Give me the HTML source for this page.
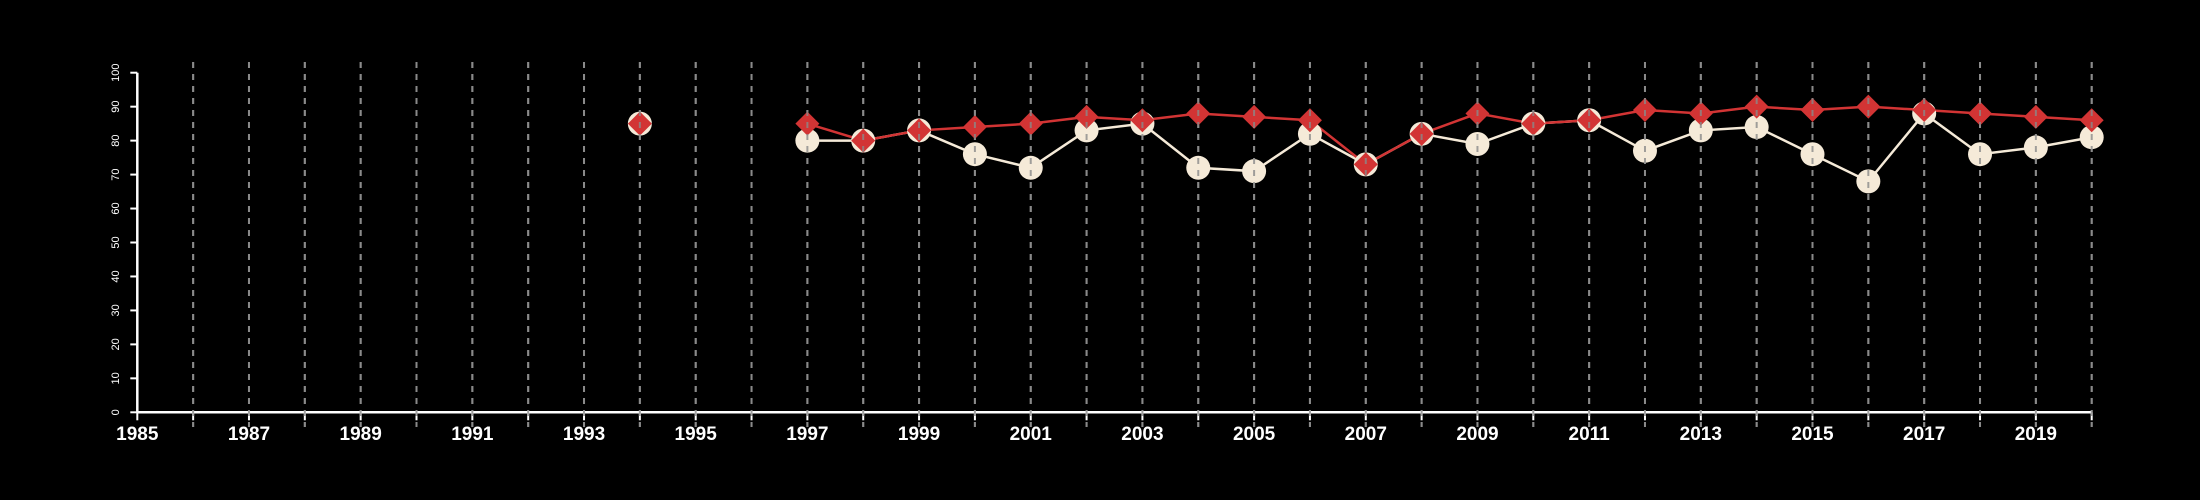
<!DOCTYPE html>
<html><head><meta charset="utf-8"><style>
html,body{margin:0;padding:0;background:#000;}
svg{display:block;font-family:"Liberation Sans",sans-serif;}
</style></head><body>
<svg id="chart" width="2200" height="500" viewBox="0 0 2200 500" xmlns="http://www.w3.org/2000/svg">
<rect width="2200" height="500" fill="#000"/>
<g id="grid"></g>
<g id="axes"></g>
<g id="series"></g>
<g id="grid2"></g>
</svg>
<script>
const years = [1994,1995,1996,1997,1998,1999,2000,2001,2002,2003,2004,2005,2006,2007,2008,2009,2010,2011,2012,2013,2014,2015,2016,2017,2018,2019,2020];
const whiteSeries = [85,null,null,80,80,83,76,72,83,85,72,71,82,73,82,79,85,86,77,83,84,76,68,88,76,78,81];
const redSeries = [85,null,null,85,80,83,84,85,87,86,88,87,86,73,82,88,85,86,89,88,90,89,90,89,88,87,86];
const yTicks = [0,10,20,30,40,50,60,70,80,90,100];
const xLabels = [1985,1987,1989,1991,1993,1995,1997,1999,2001,2003,2005,2007,2009,2011,2013,2015,2017,2019];
const xMin = 1985, xMax = 2020;

const NS = "http://www.w3.org/2000/svg";
const L = 137.3, R = 2091.7, Y0 = 412.3, Y100 = 72.7;
const xs = v => L + (v - xMin) * (R - L) / (xMax - xMin);
const ys = v => Y0 - v * (Y0 - Y100) / 100;
function mk(tag, attrs, parent){const e=document.createElementNS(NS,tag);for(const k in attrs)e.setAttribute(k,attrs[k]);parent.appendChild(e);return e;}
const grid=document.getElementById('grid'), grid2=document.getElementById('grid2'), axes=document.getElementById('axes'), series=document.getElementById('series');

for(let yr=xMin+1; yr<=xMax; yr++){
  for(const g of [grid, grid2]){
    const ln = mk('line',{x1:xs(yr),x2:xs(yr),y1:62,y2:427,stroke:'#8a8a8a','stroke-width':2,'stroke-dasharray':'6,6',opacity:g===grid2?0.8:1},g);
    
    
  }
}
// axes
const xa = mk('line',{x1:L,x2:R,y1:Y0,y2:Y0,stroke:'#fff','stroke-width':2.5},axes);


const ya = mk('line',{x1:L,x2:L,y1:Y0,y2:Y100,stroke:'#fff','stroke-width':2.5},axes);


for(let yr=xMin; yr<=xMax; yr++){
  const t = mk('line',{x1:xs(yr),x2:xs(yr),y1:Y0,y2:Y0+8,stroke:'#fff','stroke-width':2},axes);
  
  
}
xLabels.forEach(v=>{
  const t = mk('text',{x:xs(v),y:440,'text-anchor':'middle',fill:'#fff','font-size':19,'font-weight':'bold'},axes);
  t.textContent=v;
  
  
});
yTicks.forEach(v=>{
  const t = mk('line',{x1:L-7,x2:L,y1:ys(v),y2:ys(v),stroke:'#fff','stroke-width':2},axes);
  
  
  const y=ys(v);
  const lb = mk('text',{x:119,y:y,'text-anchor':'middle',fill:'#fff','font-size':11,transform:`rotate(-90 119 ${y})`},axes);
  lb.textContent=v;
  
  
});
function segs(vals){const out=[];let cur=[];vals.forEach((v,i)=>{if(v==null){if(cur.length)out.push(cur);cur=[];}else cur.push([xs(years[i]),ys(v)]);});if(cur.length)out.push(cur);return out;}
function drawLine(vals,color,name){
  segs(vals).forEach(s=>{if(s.length<2)return;
    const p=mk('polyline',{points:s.map(q=>q.join(',')).join(' '),fill:'none',stroke:color,'stroke-width':2.5},series);
    
    
  });
}
drawLine(whiteSeries,'#f5ead8','white-series-line');
drawLine(redSeries,'#d23434','red-series-line');
whiteSeries.forEach((v,i)=>{if(v==null)return;
  const c=mk('circle',{cx:xs(years[i]),cy:ys(v),r:12,fill:'#f5ead8'},series);
  
  
});
redSeries.forEach((v,i)=>{if(v==null)return;
  const x=xs(years[i]),y=ys(v),d=12;
  const p=mk('polygon',{points:`${x},${y-d} ${x+d},${y} ${x},${y+d} ${x-d},${y}`,fill:'#d23434'},series);
  
  
});
</script>
</body></html>
